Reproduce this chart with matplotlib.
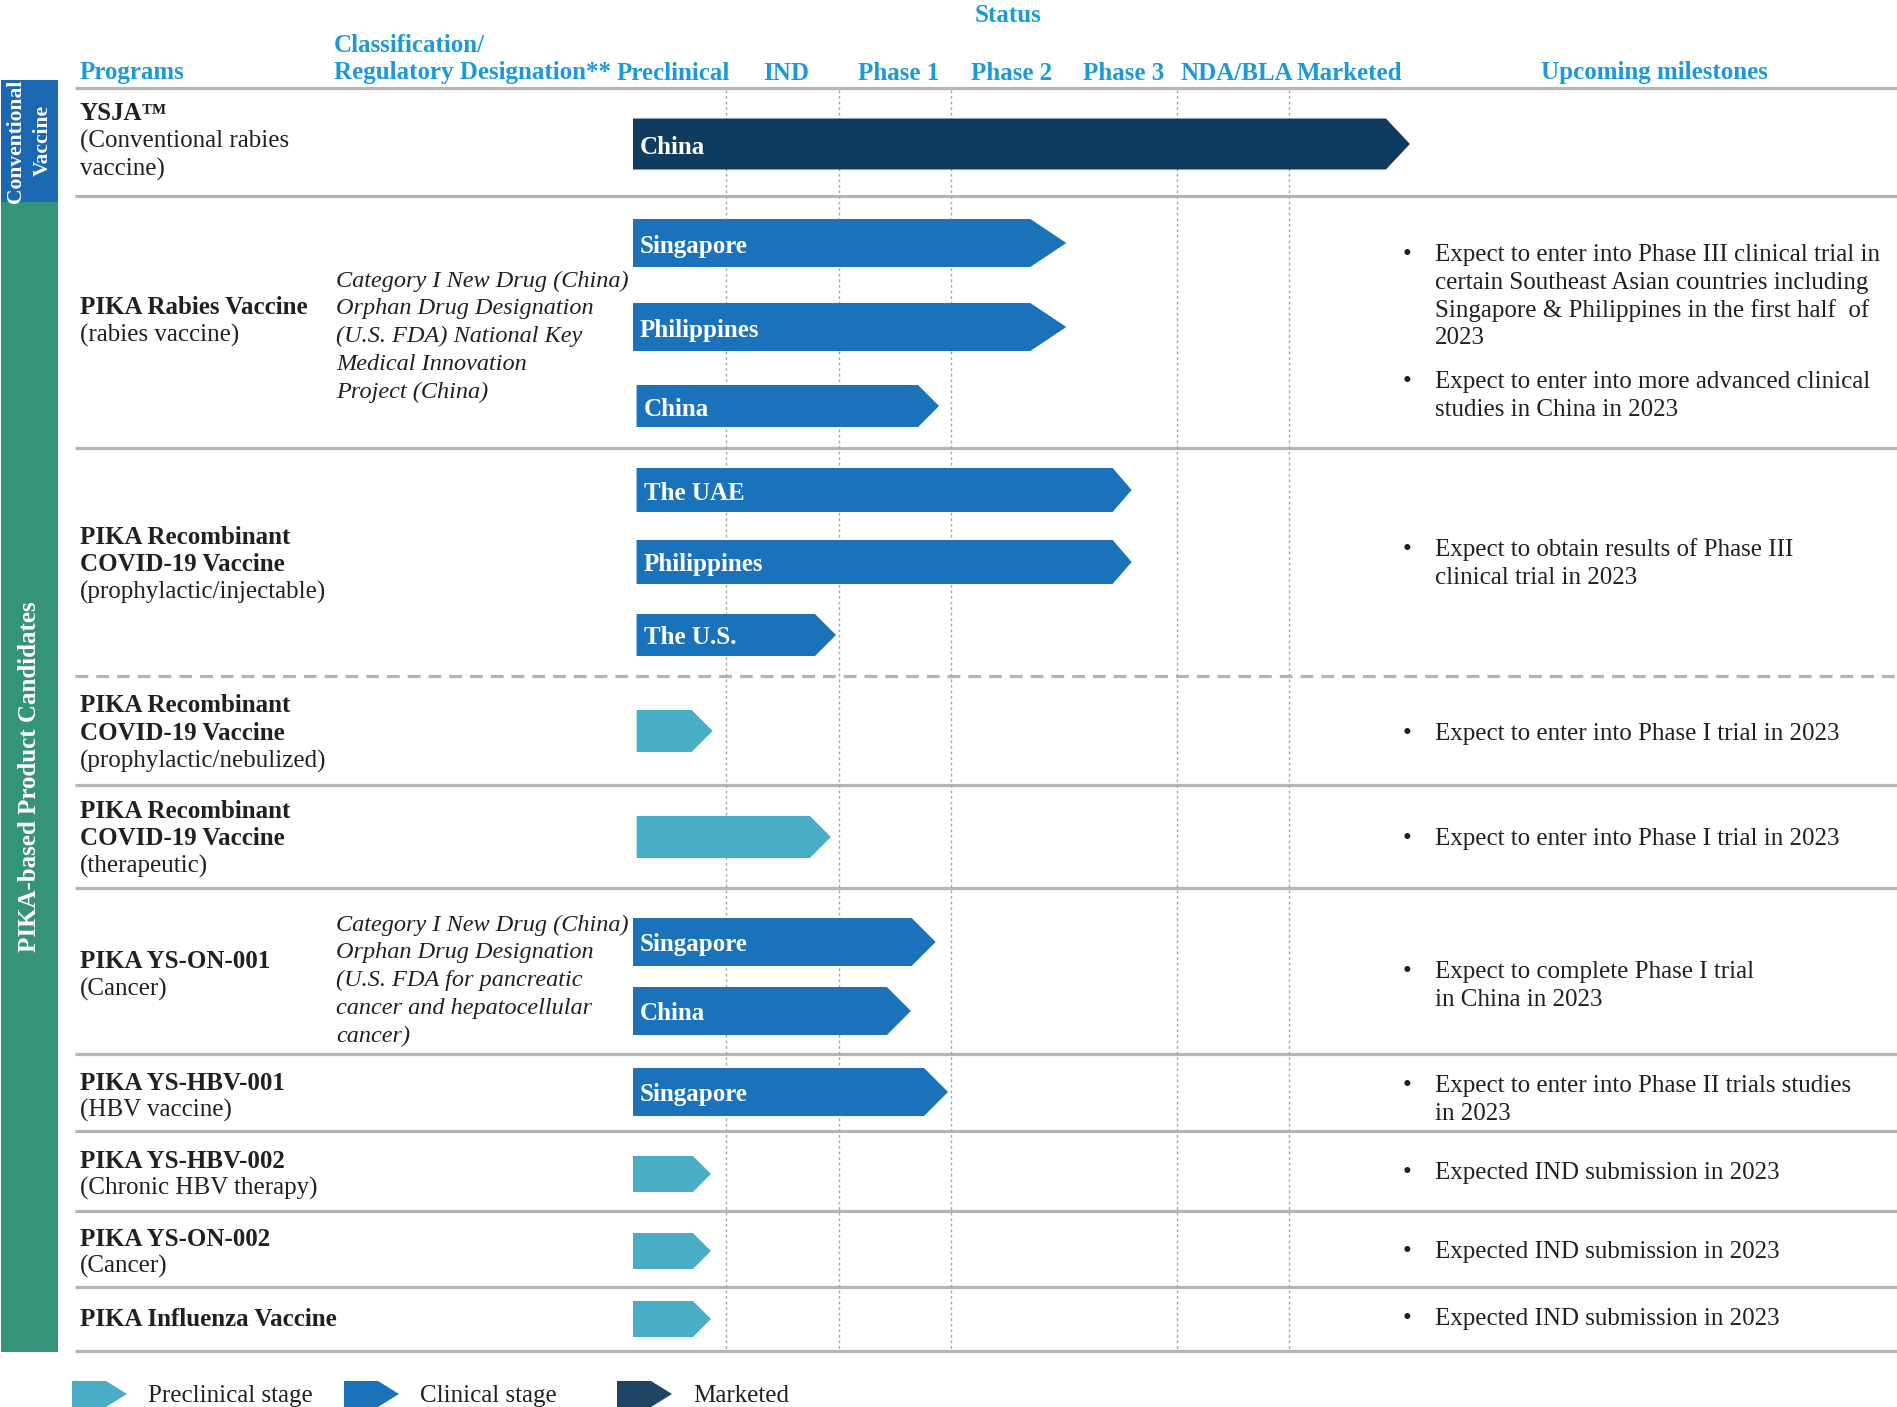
import matplotlib
matplotlib.use("Agg")
import matplotlib.pyplot as plt
from matplotlib.patches import Polygon, Rectangle

plt.rcParams["font.family"] = ["Liberation Serif", "DejaVu Serif"]

# ---- data ----
stages = ["Preclinical", "IND", "Phase 1", "Phase 2", "Phase 3", "NDA/BLA", "Marketed"]

program_names = [
    ["YSJA\u2122"],
    ["PIKA Rabies Vaccine"],
    ["PIKA Recombinant", "COVID-19 Vaccine"],
    ["PIKA Recombinant", "COVID-19 Vaccine"],
    ["PIKA Recombinant", "COVID-19 Vaccine"],
    ["PIKA YS-ON-001"],
    ["PIKA YS-HBV-001"],
    ["PIKA YS-HBV-002"],
    ["PIKA YS-ON-002"],
    ["PIKA Influenza Vaccine"],
]
program_notes = [
    ["(Conventional rabies", "vaccine)"],
    ["(rabies vaccine)"],
    ["(prophylactic/injectable)"],
    ["(prophylactic/nebulized)"],
    ["(therapeutic)"],
    ["(Cancer)"],
    ["(HBV vaccine)"],
    ["(Chronic HBV therapy)"],
    ["(Cancer)"],
    [],
]
classification = [
    [],
    ["Category I New Drug (China)", "Orphan Drug Designation",
     "(U.S. FDA) National Key", "Medical Innovation", "Project (China)"],
    [], [], [],
    ["Category I New Drug (China)", "Orphan Drug Designation",
     "(U.S. FDA for pancreatic", "cancer and hepatocellular", "cancer)"],
    [], [], [], [],
]
milestones = [
    [],
    [["Expect to enter into Phase III clinical trial in",
      "certain Southeast Asian countries including",
      "Singapore & Philippines in the first half  of",
      "2023"],
     ["Expect to enter into more advanced clinical",
      "studies in China in 2023"]],
    [["Expect to obtain results of Phase III", "clinical trial in 2023"]],
    [["Expect to enter into Phase I trial in 2023"]],
    [["Expect to enter into Phase I trial in 2023"]],
    [["Expect to complete Phase I trial", "in China in 2023"]],
    [["Expect to enter into Phase II trials studies", "in 2023"]],
    [["Expected IND submission in 2023"]],
    [["Expected IND submission in 2023"]],
    [["Expected IND submission in 2023"]],
]

# bars: label and how far along the stage axis each one reaches
bar_labels = ["China", "Singapore", "Philippines", "China", "The UAE", "Philippines",
              "The U.S.", "", "", "Singapore", "China", "Singapore", "", "", ""]
bar_end = [7.07, 4.02, 4.02, 2.89, 4.6, 4.6, 1.975, 0.88, 1.93, 2.86, 2.64, 2.97,
           0.865, 0.865, 0.865]
bar_kind = ["mkt", "clin", "clin", "clin", "clin", "clin", "clin", "pre", "pre",
            "clin", "clin", "clin", "pre", "pre", "pre"]

# ---- layout (figure pixels) ----
W, H = 1897, 1407
bar_y = [144, 243, 327, 406, 490, 562, 635, 731, 837, 942, 1011, 1092, 1174, 1251, 1319]
bar_h = [51, 48, 48, 42, 44, 44, 42, 42, 42, 48, 48, 48, 36, 36, 36]
bar_start = [0.173, 0.173, 0.173, 0.205, 0.205, 0.205, 0.205, 0.205, 0.205, 0.173,
             0.173, 0.173, 0.173, 0.173, 0.173]
bar_tip = [24, 36, 36, 21, 19, 19, 21, 21, 21, 24, 24, 24, 18, 18, 18]
name_y = [111, 305, 534, 703, 808, 959, 1080, 1158, 1236, 1316]
class_y = [None, 278, None, None, None, 922, None, None, None, None]
mile_y = [[], [252, 379], [547], [731], [836], [969], [1083], [1170], [1249], [1316]]
row_lines = [196, 448, 676, 785, 888, 1054, 1131, 1211, 1287, 1351]
STEP = 27.8
TY = 3  # text baseline nudge
HEAD_DX = 0.03

colors = {"pre": "#4aadc6", "clin": "#1a73ba", "mkt": "#103b60"}
legend_colors = {"pre": "#4aadc6", "clin": "#1a73ba", "mkt": "#1f4466"}
HEAD = "#1b9ad6"
TXT = "#231f20"
GRID = "#b5b5b5"
FS = 18

fig = plt.figure(figsize=(W / 100, H / 100), dpi=100)
ax = fig.add_axes([0, 0, 1, 1])
ax.set_xlim(0, W)
ax.set_ylim(H, 0)
ax.axis("off")

# stage axis: x in stage units, y in figure pixels
G_LEFT, G_WIDTH = 613.5, 788.5
gx = fig.add_axes([G_LEFT / W, 0, G_WIDTH / W, 1])
gx.set_xlim(0, 7)
gx.set_ylim(H, 0)
gx.axis("off")
gx.patch.set_alpha(0)
px_per_stage = G_WIDTH / 7


def arrow(axis, x0, x1, yc, h, depth, color):
    pts = [(x0, yc - h / 2), (x1 - depth, yc - h / 2), (x1, yc),
           (x1 - depth, yc + h / 2), (x0, yc + h / 2)]
    axis.add_patch(Polygon(pts, closed=True, facecolor=color, edgecolor="none",
                           zorder=3, clip_on=False))


def lines(x, y0, rows, **kw):
    for i, r in enumerate(rows):
        ax.text(x, y0 + i * STEP + TY, r, va="center", **kw)


# header
gx.text(3.5, 13 + TY, "Status", color=HEAD, fontsize=FS, fontweight="bold",
        ha="center", va="center")
ax.text(80, 70 + TY, "Programs", color=HEAD, fontsize=FS, fontweight="bold", va="center")
ax.text(334, 42 + TY, "Classification/", color=HEAD, fontsize=FS, fontweight="bold", va="center")
ax.text(334, 70 + TY, "Regulatory Designation**", color=HEAD, fontsize=FS,
        fontweight="bold", va="center")
for i, s in enumerate(stages):
    gx.text(i + 0.5 + HEAD_DX, 70 + TY, s, color=HEAD, fontsize=FS, fontweight="bold",
            ha="center", va="center")
ax.text(1654, 70 + TY, "Upcoming milestones", color=HEAD, fontsize=FS, fontweight="bold",
        ha="center", va="center")

# grid lines
ax.hlines(88, 75, W, color=GRID, lw=2.3)
for y in row_lines:
    ls = (0, (4, 2.5)) if y == 676 else "-"
    ax.hlines(y, 75, W, color=GRID, lw=2.3, linestyles=ls)
gx.vlines([1, 2, 3, 5, 6], 90, 1350, color="#a8a8a8", lw=1, linestyles=(0, (2, 2)), zorder=1)

# left bands
ax.add_patch(Rectangle((1, 80), 57, 122, facecolor="#1b67b1", edgecolor="none"))
ax.add_patch(Rectangle((1, 202), 57, 1150, facecolor="#35937a", edgecolor="none"))
ax.text(16, 141, "Conventional", rotation=90, color="white", fontsize=15.5,
        fontweight="bold", ha="center", va="center")
ax.text(43, 141, "Vaccine", rotation=90, color="white", fontsize=15.5,
        fontweight="bold", ha="center", va="center")
ax.text(30, 777, "PIKA-based Product Candidates", rotation=90, color="white",
        fontsize=FS, fontweight="bold", ha="center", va="center")

# program text
for i in range(len(program_names)):
    lines(80, name_y[i], program_names[i], color=TXT, fontsize=FS, fontweight="bold")
    lines(80, name_y[i] + STEP * len(program_names[i]), program_notes[i],
          color=TXT, fontsize=FS)
    if class_y[i] is not None:
        lines(336, class_y[i], classification[i], color=TXT, fontsize=17.5, style="italic")
    for j, m in enumerate(milestones[i]):
        ax.text(1403, mile_y[i][j] + TY, "\u2022", color=TXT, fontsize=FS, va="center")
        lines(1435, mile_y[i][j], m, color=TXT, fontsize=FS)

# bars
for k in range(len(bar_end)):
    arrow(gx, bar_start[k], bar_end[k], bar_y[k], bar_h[k],
          bar_tip[k] / px_per_stage, colors[bar_kind[k]])
    if bar_labels[k]:
        gx.text(bar_start[k] + 7 / px_per_stage, bar_y[k] + TY, bar_labels[k],
                color="white", fontsize=FS, fontweight="bold", va="center", zorder=4)

# legend
legend_items = [("pre", "Preclinical stage"), ("clin", "Clinical stage"), ("mkt", "Marketed")]
legend_x = [72, 344, 617]
for (kind, lab), x in zip(legend_items, legend_x):
    arrow(ax, x, x + 55, 1394, 26, 21, legend_colors[kind])
    ax.text(x + 76, 1393 + TY, lab, color=TXT, fontsize=FS, va="center")

fig.savefig("out.png", dpi=100)
